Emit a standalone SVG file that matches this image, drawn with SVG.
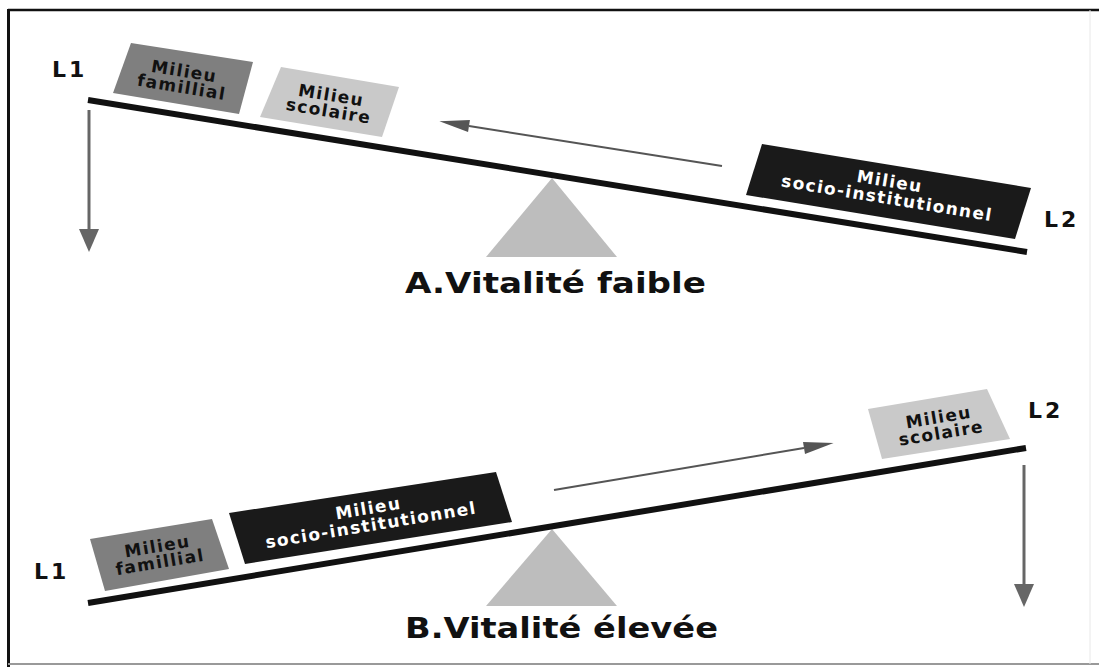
<svg xmlns="http://www.w3.org/2000/svg" width="1099" height="667" viewBox="0 0 1099 667">
<style>
.beam{stroke:#111;stroke-width:6;fill:none}
.pivot{fill:#bdbdbd}
.fam{fill:#7f7f7f}
.sco{fill:#c9c9c9}
.soc{fill:#1a1a1a}
.lbl{font-family:"DejaVu Sans","Liberation Sans",sans-serif;font-weight:bold;font-size:17px;letter-spacing:1.4px;text-anchor:middle;fill:#111}
.lblw{fill:#fff}
.side{font-family:"DejaVu Sans","Liberation Sans",sans-serif;font-weight:bold;font-size:22px;letter-spacing:3px;fill:#111}
.title{font-family:"DejaVu Sans","Liberation Sans",sans-serif;font-weight:bold;font-size:29px;fill:#111}
.thin{stroke:#555;stroke-width:2;fill:none}
.down{stroke:#666;stroke-width:3;fill:none}
</style>
<defs>
<marker id="hThin" markerUnits="userSpaceOnUse" markerWidth="30" markerHeight="12" refX="0" refY="6" orient="auto" overflow="visible">
<path d="M0,0 L30,6 L0,12 z" fill="#555"/>
</marker>
<marker id="hDown" markerUnits="userSpaceOnUse" markerWidth="23" markerHeight="20" refX="0" refY="10" orient="auto" overflow="visible">
<path d="M0,0 L23,10 L0,20 z" fill="#666"/>
</marker>
</defs>
<rect width="1099" height="667" fill="#fff"/>
<g id="frame">
<line x1="8" y1="10" x2="1099" y2="10" stroke="#111" stroke-width="2.5"/>
<line x1="8.5" y1="9" x2="8.5" y2="667" stroke="#111" stroke-width="3"/>
<line x1="8" y1="664" x2="1099" y2="664" stroke="#999" stroke-width="2"/>
<line x1="1090" y1="10" x2="1090" y2="664" stroke="#e8e8e8" stroke-width="1"/>
</g>

<!-- Panel A -->
<g id="pivotA"><polygon class="pivot" points="552,178 486,257 617,257"/></g>
<g id="beamA"><line class="beam" x1="88" y1="100" x2="1027" y2="252"/></g>
<g id="L1A"><text class="side" x="52" y="77">L1</text></g>
<g id="L2A"><text class="side" x="1044" y="227">L2</text></g>
<g id="familialA">
<polygon class="fam" points="131,43 253,62 239,114 113,93"/>
<g transform="translate(183,79) rotate(9.3)">
<text class="lbl" x="0" y="-2">Milieu</text>
<text class="lbl" x="0" y="14">famillial</text>
</g>
</g>
<g id="scolaireA">
<polygon class="sco" points="281,67 399,87 382,137 260,117"/>
<g transform="translate(330,103) rotate(9.3)">
<text class="lbl" x="0" y="-2">Milieu</text>
<text class="lbl" x="0" y="14">scolaire</text>
</g>
</g>
<g id="socioA">
<polygon class="soc" points="762,144 1031,188 1015,239 746,195"/>
<g transform="translate(888,192) rotate(9.4)">
<text class="lbl lblw" x="0" y="-5">Milieu</text>
<text class="lbl lblw" x="0" y="12">socio-institutionnel</text>
</g>
</g>
<g id="titleA"><text class="title" x="405" y="293" textLength="301" lengthAdjust="spacingAndGlyphs">A.Vitalité faible</text></g>

<!-- Panel B -->
<g id="pivotB"><polygon class="pivot" points="552,529 486,606 617,606"/></g>
<g id="beamB"><line class="beam" x1="88" y1="603" x2="1026" y2="448"/></g>
<g id="L1B"><text class="side" x="34" y="579">L1</text></g>
<g id="L2B"><text class="side" x="1028" y="418">L2</text></g>
<g id="familialB">
<polygon class="fam" points="90,539 212,519 229,569 105,591"/>
<g transform="translate(159,556) rotate(-9.4)">
<text class="lbl" x="0" y="-4">Milieu</text>
<text class="lbl" x="0" y="12">famillial</text>
</g>
</g>
<g id="socioB">
<polygon class="soc" points="229,513 496,472 512,522 245,564"/>
<g transform="translate(370,519) rotate(-9.4)">
<text class="lbl lblw" x="0" y="-5">Milieu</text>
<text class="lbl lblw" x="0" y="12">socio-institutionnel</text>
</g>
</g>
<g id="scolaireB">
<polygon class="sco" points="868,409 987,389 1010,439 882,459"/>
<g transform="translate(940,426) rotate(-9.4)">
<text class="lbl" x="0" y="-3">Milieu</text>
<text class="lbl" x="0" y="13">scolaire</text>
</g>
</g>
<g id="titleB"><text class="title" x="405" y="638" textLength="313" lengthAdjust="spacingAndGlyphs">B.Vitalité élevée</text></g>

<g id="connectors">
<line class="thin" x1="722" y1="166" x2="469" y2="126" marker-end="url(#hThin)"/>
<line class="thin" x1="554" y1="490" x2="804" y2="448" marker-end="url(#hThin)"/>
<line class="down" x1="89" y1="110" x2="89" y2="229" marker-end="url(#hDown)"/>
<line class="down" x1="1024" y1="465" x2="1024" y2="584" marker-end="url(#hDown)"/>
</g>
</svg>
